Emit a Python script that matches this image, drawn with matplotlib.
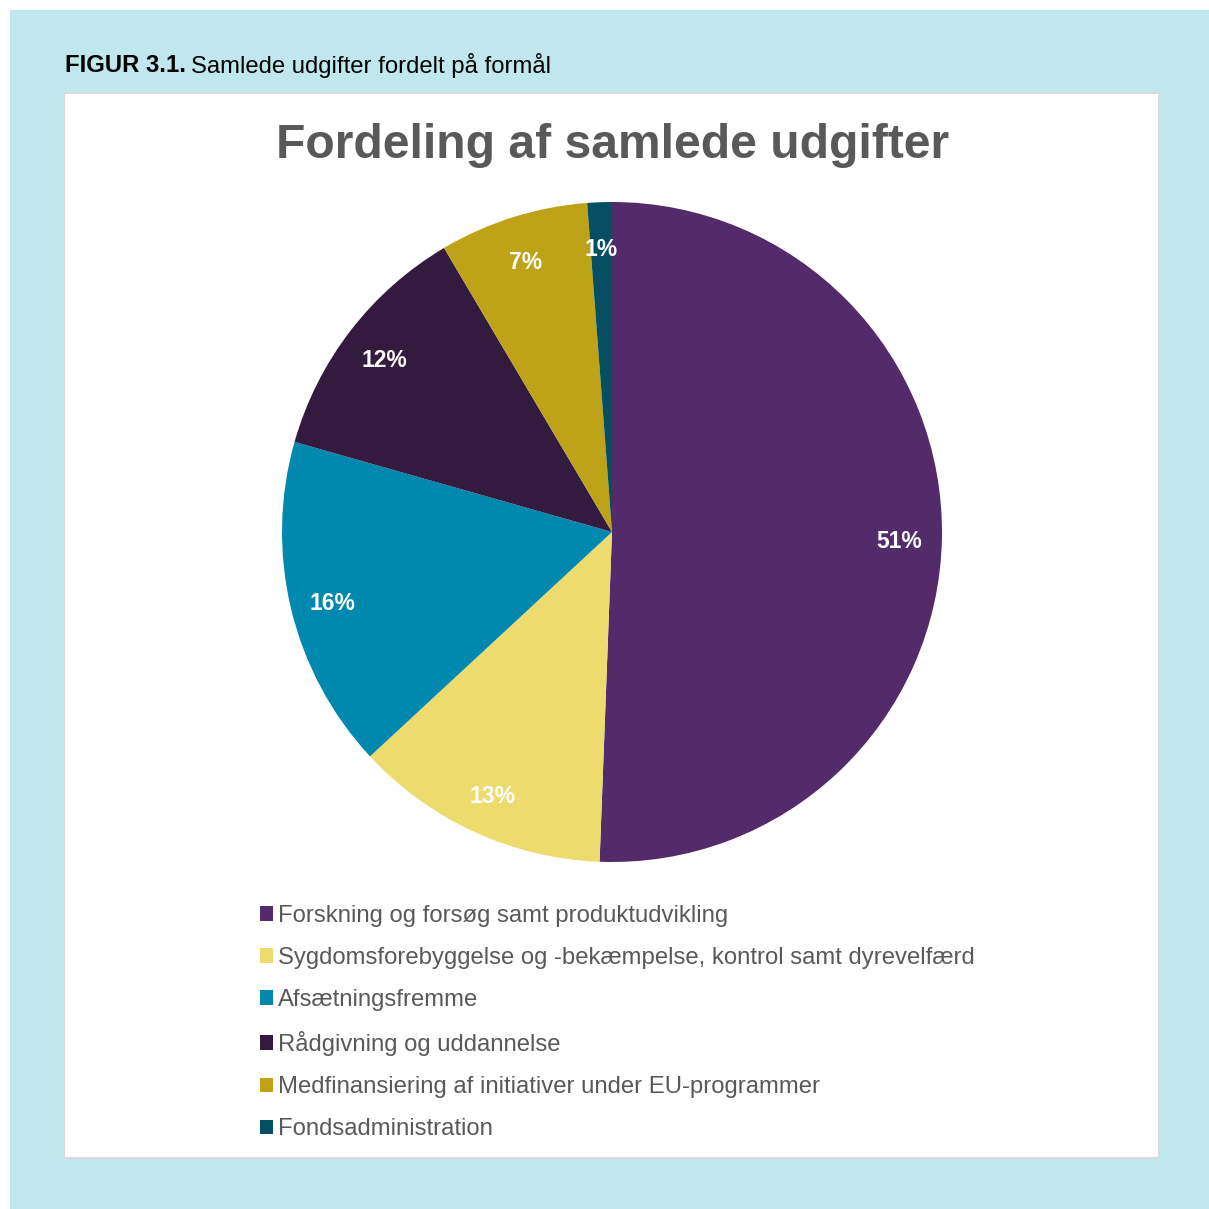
import matplotlib
matplotlib.use("Agg")
import matplotlib.pyplot as plt
from matplotlib.patches import Rectangle
from matplotlib.transforms import ScaledTranslation

plt.rcParams['font.family'] = ['Liberation Sans', 'DejaVu Sans']

categories = [
    "Forskning og forsøg samt produktudvikling",
    "Sygdomsforebyggelse og -bekæmpelse, kontrol samt dyrevelfærd",
    "Afsætningsfremme",
    "Rådgivning og uddannelse",
    "Medfinansiering af initiativer under EU-programmer",
    "Fondsadministration",
]
values = [50.6, 12.5, 16.3, 12.1, 7.3, 1.2]
pct_labels = ["51%", "13%", "16%", "12%", "7%", "1%"]
colors = ["#532B6B", "#EDDB6E", "#0088AE", "#331B40", "#BEA217", "#064F63"]

W = H = 1209
fig = plt.figure(figsize=(W / 100, H / 100), dpi=100)
fig.patch.set_facecolor("white")

def fx(px):
    return px / W

def fy(py):
    return 1 - py / H

# cyan background
fig.patches.append(Rectangle((fx(10), 0), 1 - fx(10), fy(10), transform=fig.transFigure,
                             facecolor="#C0E8EC", edgecolor="none", zorder=-2))
# white panel
fig.patches.append(Rectangle((fx(64), fy(1158)), fx(1159 - 64), (1158 - 93) / H,
                             transform=fig.transFigure, facecolor="white",
                             edgecolor="#DADADA", linewidth=1.5, zorder=-1))

# figure caption
t1 = fig.text(fx(65), fy(66), "FIGUR 3.1.", fontsize=17.2, fontweight="bold",
              color="black", va="center", ha="left")
fig.canvas.draw()
bb = t1.get_window_extent()
fig.text(bb.x1 / W + fx(5), fy(66), "Samlede udgifter fordelt på formål", fontsize=17.2,
         color="black", va="center", ha="left")

# chart title
fig.text(fx(613), fy(145), "Fordeling af samlede udgifter", fontsize=34.6, fontweight="bold",
         color="#595959", ha="center", va="center")

# pie
cx, cy, r = 612, 532, 330
ax = fig.add_axes([fx(cx - r), fy(cy + r), 2 * r / W, 2 * r / H])
ax.set_zorder(5)
it = iter(pct_labels)
wedges, texts, autotexts = ax.pie(values, colors=colors, startangle=90, counterclock=False,
                                  autopct=lambda p: next(it), pctdistance=0.87,
                                  wedgeprops=dict(linewidth=0),
                                  textprops=dict(color="white", fontsize=16.5, fontweight="bold"))
shift = ScaledTranslation(0, -4 / 100, fig.dpi_scale_trans)
for t in autotexts:
    t.set_transform(t.get_transform() + shift)
ax.set_xlim(-1, 1)
ax.set_ylim(-1, 1)
ax.set_aspect("equal")
ax.axis("off")

# legend
leg = fig.legend(wedges, categories, loc="upper left",
                 bbox_to_anchor=(fx(248), fy(893)), frameon=False,
                 fontsize=17.2, labelcolor="#595959", handlelength=0.55, handleheight=0.55,
                 handletextpad=0.2, labelspacing=0.84, borderpad=0)
leg.set_zorder(6)

fig.savefig("out.png", dpi=100)
